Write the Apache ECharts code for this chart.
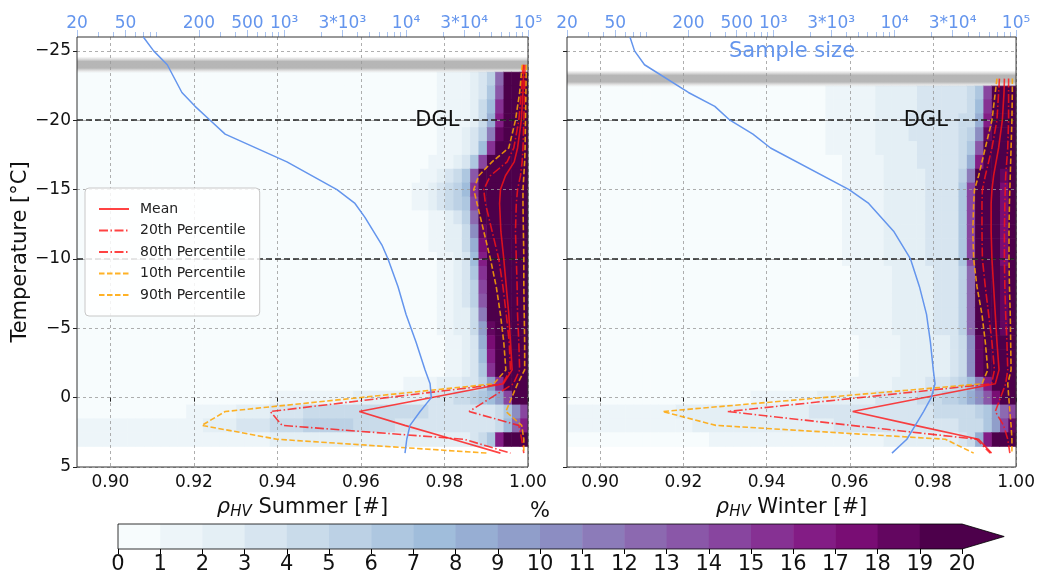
<!DOCTYPE html>
<html><head><meta charset="utf-8">
<script src="https://cdn.jsdelivr.net/npm/echarts@6/dist/echarts.min.js"></script>
<style>html,body{margin:0;padding:0;background:#fff}#chart{width:1038px;height:575px}</style>
</head><body><div id="chart"></div>
<script>
// ================= DATA =================
const rhoMin = 0.892, rhoMax = 1.0;
const tempMin = -26, tempMax = 5;
const binWidth = 0.002;            // histogram bin width in rho_HV
const rhoTicks = [0.90, 0.92, 0.94, 0.96, 0.98, 1.00];
const tempTicks = [-25, -20, -15, -10, -5, 0, 5];
const dglLevels = [-20, -10];
const sampleMajorTicks = [20, 50, 200, 500, 1000, 3000, 10000, 30000, 100000];
const sampleMajorLabels = ['20', '50', '200', '500', '10³', '3*10³', '10⁴', '3*10⁴', '10⁵'];
const sampleMinorTicks = [30, 40, 60, 70, 80, 90, 300, 400, 600, 700, 800, 900, 2000, 4000, 5000, 6000, 7000, 8000, 9000, 20000, 40000, 50000, 60000, 70000, 80000, 90000];
const colorLevels = [0,1,2,3,4,5,6,7,8,9,10,11,12,13,14,15,16,17,18,19];
const colorTickLabels = [0,1,2,3,4,5,6,7,8,9,10,11,12,13,14,15,16,17,18,19,20];

// ---- Summer percentile / mean profiles ----
const summerLevels = [-24, -22, -20, -18, -17, -16, -15, -14, -12, -10, -8, -6, -4, -2, -1, 1, 2, 3, 4];
const summerMean = [0.9990, 0.9988, 0.9984, 0.9975, 0.9967, 0.9946, 0.9934, 0.9932, 0.9935, 0.9942, 0.9948, 0.9954, 0.9958, 0.9962, 0.9941, 0.9596, 0.9705, 0.9820, 0.9934];
const summerP20 = [0.9988, 0.9984, 0.9978, 0.9966, 0.9950, 0.9910, 0.9894, 0.9898, 0.9914, 0.9930, 0.9940, 0.9948, 0.9955, 0.9958, 0.9939, 0.9383, 0.9411, 0.9847, 0.9958];
const summerP80 = [0.9993, 0.9992, 0.9990, 0.9988, 0.9986, 0.9982, 0.9975, 0.9972, 0.9970, 0.9972, 0.9974, 0.9975, 0.9978, 0.9980, 0.9965, 0.9859, 0.9978, 0.9985, 0.9990];
const summerP10 = [0.9986, 0.9980, 0.9970, 0.9954, 0.9914, 0.9882, 0.9870, 0.9878, 0.9894, 0.9910, 0.9924, 0.9934, 0.9942, 0.9947, 0.9918, 0.9275, 0.9219, 0.9399, 0.9903];
const summerP90 = [0.9996, 0.9995, 0.9994, 0.9993, 0.9992, 0.9990, 0.9988, 0.9988, 0.9989, 0.9990, 0.9990, 0.9991, 0.9992, 0.9992, 0.9975, 0.9947, 0.9985, 0.9990, 0.9990];

// ---- Winter percentile / mean profiles ----
const winterLevels = [-23, -22, -20, -18, -16, -15, -14, -12, -10, -8, -6, -4, -2, -1, 1, 2, 3, 4];
const winterMean = [0.9972, 0.9971, 0.9967, 0.9958, 0.9946, 0.9942, 0.9940, 0.9940, 0.9942, 0.9946, 0.9950, 0.9954, 0.9959, 0.9950, 0.9607, 0.9757, 0.9910, 0.9941];
const winterP20 = [0.9960, 0.9958, 0.9954, 0.9942, 0.9926, 0.9919, 0.9918, 0.9918, 0.9919, 0.9926, 0.9934, 0.9942, 0.9948, 0.9941, 0.9306, 0.9604, 0.9905, 0.9938];
const winterP80 = [0.9982, 0.9982, 0.9982, 0.9980, 0.9975, 0.9974, 0.9973, 0.9972, 0.9972, 0.9973, 0.9975, 0.9978, 0.9980, 0.9975, 0.9950, 0.9970, 0.9980, 0.9985];
const winterP10 = [0.9954, 0.9950, 0.9942, 0.9926, 0.9910, 0.9900, 0.9898, 0.9896, 0.9898, 0.9906, 0.9918, 0.9926, 0.9932, 0.9918, 0.9150, 0.9278, 0.9830, 0.9898];
const winterP90 = [0.9991, 0.9991, 0.9990, 0.9988, 0.9986, 0.9985, 0.9984, 0.9983, 0.9983, 0.9984, 0.9986, 0.9987, 0.9988, 0.9980, 0.9985, 0.9988, 0.9990, 0.9990];

// ---- Sample size profiles (top log axis) ----
const summerSampleTemps = [-26, -25, -24, -22, -21, -20, -19, -17, -15, -14, -13, -11, -10, -8, -6, -4, -2, -1, 0, 1, 2, 3, 4];
const summerSampleN = [70, 85, 110, 145, 186, 247, 328, 1054, 2711, 3810, 4600, 6340, 7110, 8590, 10000, 12080, 14320, 15740, 16100, 13030, 10770, 10130, 9800];
const winterSampleTemps = [-26, -25, -24, -22, -21, -20, -19, -18, -15, -14, -12, -10, -8, -6, -4, -2, -1, 0, 1, 2, 3, 4];
const winterSampleN = [66, 72, 87, 200, 330, 440, 680, 950, 4210, 6110, 9800, 13500, 16000, 18300, 19700, 20800, 21500, 20000, 17300, 14780, 12600, 9500];

// ---- Gray (no-data) band rows ----
const summerBandTemp = [-24];
const winterBandTemp = [-23];

// ---- 2D histograms [%]: one row per temperature, bins listed from rho=1.000 leftwards (width 0.002) ----
const summerHistTemps = [-23,-22,-21,-20,-19,-18,-17,-16,-15,-14,-13,-12,-11,-10,-9,-8,-7,-6,-5,-4,-3,-2,-1,0,1,2,3];
const summerHist = [
  [24,24,22,12,5,3,2,1.5,1.2,1,1],
  [24,24,22,13,6,3,2,1.5,1.2,1,1],
  [24,24,22,15,7,4,2,1.5,1.2,1,1],
  [24,24,22,16,8,4,2.5,1.5,1.2,1,1],
  [24,24,22,18,11,5,3,2,1.5,1,1],
  [24,24,22,20,15,7,3,2,1.5,1.2,1],
  [22,24,22,21,19,14,6,3,2,1.5,1.2,1],
  [20,22,22,21,21,19,13,6,4,3,2,1.5,1],
  [20,22,22,21,21,20,15,7,5,4,3,2,1.5,1],
  [20,22,22,21,21,20,14,6,5,4,3,2,1.5,1],
  [20,22,22,21,21,19,12,5,3,2,1.5,1],
  [20,22,22,21,21,18,10,4,2.5,2,1.5,1],
  [20,22,22,21,21,17,8,4,2.5,2,1.5,1],
  [20,22,22,21,21,16,7,3.5,2,1.5,1],
  [20,22,22,21,20,15,6,3,2,1.5,1],
  [20,22,22,21,20,14,5,3,2,1.5,1],
  [20,22,22,21,20,13,5,3,2,1.5,1],
  [20,22,22,21,19,11,4,2.5,2,1.5,1],
  [20,22,22,21,18,9,4,2.5,2,1.5,1],
  [20,22,22,21,17,8,3.5,2,1.5,1],
  [20,22,22,21,16,7,3,2,1.5,1],
  [20,22,22,20,15,6,3,2,1.5,1],
  [22,22,20,15,9,5,3.5,3,2.5,2,2,1.5,1.5,1.2,1],
  [22,20,14,9,7,6,5,4.5,4,3.5,3,3,2.8,2.6,2.5,2.4,2.3,2.2,2.1,2,2,1.9,1.8,1.7,1.6,1.5,1.4,1.3,1.2,1.1,1],
  [14,10,6,4,3,3,3,3,3,3.5,3.5,3.5,4,4,4,4,4.5,4.5,4.5,4.5,4.5,4.5,4.5,4.5,4,4,4,3.5,3.5,3,3,2.5,2.5,2,2,1.8,1.6,1.4,1.2,1.1,1],
  [16,12,7,4,3,3,3,3,3,3,3,3,3.5,3.5,3.5,3.5,4,4,4,4.5,4.5,5,5,5,5,5,5,4.5,4.5,4,4,3.5,3.5,3,3,2.5,2.5,2,2,1.8,1.6,1.5,1.4,1.4,1.5,1.6,1.6,1.5,1.4,1.3,1.2,1.1,1,1],
  [24,22,20,16,6,4,3,2.5,2.5,2,2,2,2,2,2,2,2,2,2,2,2,2,2,2,2,2,2,2,2,2,2,1.5,1.5,1.5,1.5,1.5,1.5,1.5,1.5,1.5,1.2,1.2,1.2,1.2,1.2,1.2,1.2,1.2,1.2,1.1,1.1,1.1,1,1]
];
const winterHistTemps = [-22,-21,-20,-19,-18,-17,-16,-15,-14,-13,-12,-11,-10,-9,-8,-7,-6,-5,-4,-3,-2,-1,0,1,2,3];
const winterHist = [
  [22,21,21,14,6,4,3.5,3.5,3,3,3,3,2.5,2.5,2.5,2,2,1.5,1.5,1.2,1.2,1,1],
  [22,21,21,15,7,4,3.5,3.5,3.5,3,3,3,2.5,2.5,2.5,2,2,1.5,1.5,1.2,1.2,1,1],
  [22,21,21,16,8,4.5,4,3.5,3.5,3,3,3,3,2.5,2.5,2,2,1.5,1.5,1.2,1.2,1,1],
  [22,21,21,18,10,5,4,3.5,3.5,3,3,3,3,2.5,2.5,2,2,1.5,1.5,1.2,1.2,1,1],
  [22,20,21,20,13,6,4,3.5,3.5,3,3,3,2.5,2.5,2.5,2,2,1.5,1.5,1.2,1.2,1,1],
  [22,19,21,21,16,8,4.5,3.5,3.5,3,3,3,2.5,2.5,2,2,1.5,1.5,1.2,1.2,1],
  [22,18,21,21,19,11,5,3.5,3,3,3,2.5,2.5,2.5,2,2,1.5,1.5,1.2,1.2,1],
  [22,17,21,21,20,14,6,3.5,3,3,3,2.5,2.5,2.5,2,2,1.5,1.5,1.2,1.2,1],
  [22,17,21,21,20,14,6,3.5,3,3,3,2.5,2.5,2.5,2,2,1.5,1.5,1.2,1.2,1],
  [22,17,21,21,20,14,6,3.5,3,3,3,2.5,2.5,2.5,2,2,1.5,1.5,1.2,1.2,1],
  [22,17,21,21,20,14,6,3.5,3,3,3,2.5,2.5,2.5,2,2,1.5,1.5,1.2,1.2,1],
  [22,17,21,21,20,14,6,3.5,3,3,3,2.5,2.5,2.5,2,2,1.5,1.5,1.2,1.2,1],
  [22,17,21,21,20,14,6,3.5,3,3,3,2.5,2.5,2.5,2,2,1.5,1.5,1.2,1.2,1],
  [22,18,21,21,19,12,5,3,3,3,2.5,2.5,2.5,2,2,1.5,1.5,1.2,1.2,1],
  [22,18,21,21,19,12,5,3,3,3,2.5,2.5,2.5,2,2,1.5,1.5,1.2,1.2,1],
  [22,18,21,21,19,12,5,3,3,3,2.5,2.5,2.5,2,2,1.5,1.5,1.2,1.2,1],
  [22,18,21,21,19,12,5,3,3,3,2.5,2.5,2.5,2,2,1.5,1.5,1.2,1.2,1],
  [22,18,21,21,19,12,5,3,3,3,2.5,2.5,2.5,2,2,1.5,1.5,1.2,1.2,1],
  [22,19,21,21,18,10,4,3,2.5,2.5,2.5,2,2,2,1.5,1.5,1.2,1.2,1],
  [22,19,21,21,18,10,4,3,2.5,2.5,2.5,2,2,2,1.5,1.5,1.2,1.2,1],
  [22,19,21,21,18,10,4,3,2.5,2.5,2.5,2,2,2,1.5,1.5,1.2,1.2,1],
  [22,22,20,16,11,7,5,4,3.5,3,3,2.5,2.5,2,2,1.5,1.5,1.2,1.2,1],
  [22,20,17,13,10,8,6.5,5.5,5,4.5,4,4,3.5,3.5,3,3,3,2.5,2.5,2.5,2,2,2,2,1.8,1.6,1.5,1.4,1.3,1.2,1.1,1],
  [14,12,9,6,5,4.5,4,4,4,4,3.5,3.5,3.5,3.5,3.5,3.5,3.5,3.5,3,3,3,3,3,3,3,2.5,2.5,2.5,2.5,2.5,2.5,2.5,2,2,2,2,2,2,2,2,2,1.8,1.8,1.8,1.8,1.8,1.6,1.6,1.6,1.5,1.5,1.4,1.4,1.3],
  [18,14,9,6,4.5,4,4,3.5,3.5,3.5,3.5,3,3,3,3,3,3,3,3,3,3,3,2.5,2.5,2.5,2.5,2.5,2.5,2.5,2.5,2,2,2,2,2,2,2,2,2,1.8,1.8,1.8,1.6,1.6,1.6,1.5,1.5,1.4,1.4,1.3,1.3,1.2,1.2,1.1],
  [24,22,20,16,8,4,3,2.5,2.5,2,2,2,2,2,2,2,1.8,1.8,1.8,1.6,1.6,1.6,1.5,1.5,1.5,1.4,1.4,1.4,1.3,1.3,1.3,1.2,1.2,1.2,1.1,1.1,1]
];

// ================= STYLE / HELPERS =================
const FONT = 'DejaVu Sans';
const SAMPLE_BLUE = '#6495ED';
const RED = 'rgba(255,20,20,0.8)';
const ORANGE = 'rgba(255,165,0,0.85)';
const dglLabelRho = 0.9783;

function sampleBuPu(t) {
  const stops = [[247,252,253],[224,236,244],[191,211,230],[158,188,218],[140,150,198],[140,107,177],[136,65,157],[129,15,124],[77,0,75]];
  const p = t * (stops.length - 1);
  const i = Math.min(stops.length - 2, Math.floor(p));
  const f = p - i;
  const c = stops[i].map((a, j) => Math.round(a + (stops[i + 1][j] - a) * f));
  return 'rgb(' + c.join(',') + ')';
}
const levelColors = colorLevels.map(i => sampleBuPu(i / (colorLevels.length - 1)));
function colorFor(v) {
  const i = Math.max(0, Math.min(colorLevels.length - 1, Math.floor(v)));
  return levelColors[i];
}

function histData(temps, rows) {
  const nBins = Math.round((rhoMax - rhoMin) / binWidth);
  const out = [];
  temps.forEach((t, r) => {
    for (let k = 0; k < nBins; k++) {
      const v = rows[r][k] || 0;
      out.push([rhoMax - binWidth * (k + 0.5), t, v]);
    }
  });
  return out;
}
function zipXY(xs, ys) { return xs.map((x, i) => [x, ys[i]]); }

function renderCell(params, api) {
  const x = api.value(0), t = api.value(1), v = api.value(2);
  const a = api.coord([x - binWidth / 2, t - 0.5]);
  const b = api.coord([x + binWidth / 2, t + 0.5]);
  return {
    type: 'rect',
    shape: { x: Math.min(a[0], b[0]), y: Math.min(a[1], b[1]), width: Math.abs(b[0] - a[0]) + 0.6, height: Math.abs(b[1] - a[1]) + 0.6 },
    style: { fill: colorFor(v) }
  };
}
function renderBand(params, api) {
  const t = api.value(0);
  const a = api.coord([rhoMin, t - 0.6]);
  const b = api.coord([rhoMax, t + 0.6]);
  return {
    type: 'rect',
    shape: { x: a[0], y: Math.min(a[1], b[1]), width: b[0] - a[0], height: Math.abs(b[1] - a[1]) },
    style: { fill: new echarts.graphic.LinearGradient(0, 0, 0, 1, [
      { offset: 0, color: 'rgba(200,200,200,0)' },
      { offset: 0.3, color: 'rgba(178,178,178,0.95)' },
      { offset: 0.7, color: 'rgba(178,178,178,0.95)' },
      { offset: 1, color: 'rgba(200,200,200,0)' }]) }
  };
}
function renderColorCell(params, api) {
  const i = api.value(0);
  const a = api.coord([i, 0]);
  const b = api.coord([i + 1, 1]);
  return { type: 'rect', shape: { x: a[0], y: b[1], width: b[0] - a[0] + 0.5, height: a[1] - b[1] }, style: { fill: levelColors[i] } };
}
function renderColorExtend(params, api) {
  const n = colorLevels.length;
  const p0 = api.coord([n, 0]), p1 = api.coord([n + 1, 0.5]), p2 = api.coord([n, 1]);
  const q0 = api.coord([0, 0]), q1 = api.coord([0, 1]);
  return { type: 'group', children: [
    { type: 'polygon', shape: { points: [p0, p1, p2] }, style: { fill: levelColors[n - 1] } },
    { type: 'polygon', shape: { points: [q0, p0, p1, p2, q1] }, style: { fill: 'none', stroke: '#000', lineWidth: 0.8 } }
  ]};
}

const gridLineStyle = { color: '#9a9a9a', type: [3, 3], width: 0.8 };
const tempLabel = v => (v < 0 ? '\u2212' + Math.abs(v) : String(v));

function bottomAxis(gridIndex, nameWord) {
  return {
    type: 'value', gridIndex, position: 'bottom', min: rhoMin, max: rhoMax, splitNumber: 5, z: 3,
    axisLine: { show: false },
    axisTick: { show: true, customValues: rhoTicks, length: 4, lineStyle: { color: '#222' } },
    axisLabel: { customValues: rhoTicks, formatter: v => v.toFixed(2), fontSize: 17, fontFamily: FONT, color: '#111', margin: 7 },
    splitLine: { show: true, lineStyle: gridLineStyle },
    name: '{r|ρ}{s|HV} ' + nameWord + ' [#]', nameLocation: 'middle', nameGap: 28,
    nameTextStyle: { fontSize: 21, fontFamily: FONT, color: '#111',
      rich: { r: { fontSize: 21, fontStyle: 'italic', fontFamily: FONT, color: '#111' },
              s: { fontSize: 15, fontStyle: 'italic', fontFamily: FONT, color: '#111', padding: [10, 0, 0, 0] } } }
  };
}
function topMajorAxis(gridIndex) {
  return {
    type: 'log', logBase: 10, gridIndex, position: 'top', min: 20, max: 100000, z: 3,
    axisLine: { show: false },
    axisTick: { show: true, customValues: sampleMajorTicks, length: 7, lineStyle: { color: '#a9c3f0' } },
    axisLabel: { show: true, customValues: sampleMajorTicks, fontSize: 17, fontFamily: FONT, color: SAMPLE_BLUE, margin: 5,
      formatter: v => { const i = sampleMajorTicks.findIndex(t => Math.abs(t - v) / t < 1e-6); return i >= 0 ? sampleMajorLabels[i] : ''; } },
    splitLine: { show: false }
  };
}
function topMinorAxis(gridIndex) {
  return {
    type: 'log', logBase: 10, gridIndex, position: 'top', min: 20, max: 100000, offset: 0, z: 3,
    axisLine: { show: false },
    axisTick: { show: true, customValues: sampleMinorTicks, length: 5, lineStyle: { color: '#a9c3f0' } },
    axisLabel: { show: false },
    splitLine: { show: false }
  };
}
function tempAxis(gridIndex, withLabels) {
  return {
    type: 'value', gridIndex, min: tempMin, max: tempMax, inverse: true, splitNumber: 6, z: 3,
    axisLine: { show: false },
    axisTick: { show: true, customValues: tempTicks, length: 4, lineStyle: { color: '#222' } },
    axisLabel: { show: withLabels, customValues: tempTicks, formatter: tempLabel, fontSize: 17, fontFamily: FONT, color: '#111', margin: 6 },
    splitLine: { show: true, lineStyle: gridLineStyle },
    name: withLabels ? 'Temperature [°C]' : '', nameLocation: 'middle', nameGap: 46, nameRotate: 90,
    nameTextStyle: { fontSize: 21, fontFamily: FONT, color: '#111' }
  };
}
function profileSeries(name, xs, levels, xi, yi, color, type, extra) {
  return Object.assign({
    type: 'line', name, xAxisIndex: xi, yAxisIndex: yi, data: zipXY(xs, levels),
    symbol: 'none', showSymbol: false, z: 6, silent: true,
    lineStyle: { color, width: 1.6, type },
    itemStyle: { color }
  }, extra || {});
}
const dashDot = [9, 2.5, 1.5, 2.5];
const dashed = [5.5, 2.5];

function dglExtras() {
  return {
    markLine: { silent: true, symbol: ['none', 'none'], animation: false,
      data: dglLevels.map(v => ({ yAxis: v })),
      lineStyle: { color: '#222', type: [6, 3], width: 1.5 }, label: { show: false } },
    markPoint: { silent: true, animation: false, symbol: 'circle', symbolSize: 0,
      data: [{ coord: [dglLabelRho, dglLevels[0]] }],
      label: { show: true, formatter: 'DGL', position: 'inside', fontSize: 21, fontFamily: FONT, color: '#111' } }
  };
}

function panelSeries(g, xb, xt, yi, histTemps, hist, bandTemp, L, sampleTemps, sampleN) {
  return [
    { type: 'custom', name: 'hist' + g, xAxisIndex: xb, yAxisIndex: yi, z: 1, silent: true, clip: true,
      renderItem: renderCell, data: histData(histTemps, hist) },
    { type: 'custom', name: 'band' + g, xAxisIndex: xb, yAxisIndex: yi, z: 2, silent: true, clip: true,
      renderItem: renderBand, data: bandTemp.map(t => [t]) },
    profileSeries('Mean', L.mean, L.levels, xb, yi, RED, 'solid', dglExtras()),
    profileSeries('20th Percentile', L.p20, L.levels, xb, yi, RED, dashDot),
    profileSeries('80th Percentile', L.p80, L.levels, xb, yi, RED, dashDot),
    profileSeries('10th Percentile', L.p10, L.levels, xb, yi, ORANGE, dashed),
    profileSeries('90th Percentile', L.p90, L.levels, xb, yi, ORANGE, dashed),
    { type: 'line', name: 'Sample size ' + g, xAxisIndex: xt, yAxisIndex: yi, z: 7, silent: true,
      data: zipXY(sampleN, sampleTemps), symbol: 'none', showSymbol: false,
      lineStyle: { color: SAMPLE_BLUE, width: 1.5 } }
  ];
}

const chart = echarts.init(document.getElementById('chart'), null, { renderer: 'canvas' });
const option = {
  animation: false,
  backgroundColor: '#fff',
  textStyle: { fontFamily: FONT },
  grid: [
    { left: 77, top: 37, width: 451, height: 430, show: true, z: 4, backgroundColor: 'transparent', borderColor: '#333', borderWidth: 1 },
    { left: 567, top: 37, width: 451, height: 430, show: true, z: 4, backgroundColor: 'transparent', borderColor: '#333', borderWidth: 1 },
    { left: 118, top: 524, width: 844, height: 26 }
  ],
  xAxis: [
    bottomAxis(0, 'Summer'), topMajorAxis(0), topMinorAxis(0),
    bottomAxis(1, 'Winter'), topMajorAxis(1), topMinorAxis(1),
    { type: 'value', gridIndex: 2, min: 0, max: 20, interval: 1, position: 'bottom',
      axisLine: { show: false }, splitLine: { show: false },
      axisTick: { show: true, length: 5, lineStyle: { color: '#000' } },
      axisLabel: { fontSize: 21, fontFamily: FONT, color: '#111', margin: 5,
        formatter: v => String(colorTickLabels[Math.round(v)]) } }
  ],
  yAxis: [
    tempAxis(0, true), tempAxis(1, false),
    { type: 'value', gridIndex: 2, min: 0, max: 1, show: false }
  ],
  legend: {
    data: ['Mean', '20th Percentile', '80th Percentile', '10th Percentile', '90th Percentile'],
    orient: 'vertical', left: 85, top: 188, itemWidth: 30, itemHeight: 14, itemGap: 7.5,
    padding: [14, 14, 14, 13], backgroundColor: 'rgba(255,255,255,0.85)', borderColor: '#c8c8c8', borderWidth: 1, borderRadius: 4,
    itemStyle: { opacity: 0 },
    textStyle: { fontSize: 14, fontFamily: FONT, color: '#222', padding: [0, 0, 0, 6] },
    selectedMode: false, z: 10
  },
  graphic: [
    { type: 'text', x: 792, y: 52, style: { text: 'Sample size', fill: SAMPLE_BLUE, font: '21px "DejaVu Sans"', textAlign: 'center', textVerticalAlign: 'middle' }, z: 10 },
    { type: 'text', x: 540, y: 512, style: { text: '%', fill: '#111', font: '21px "DejaVu Sans"', textAlign: 'center', textVerticalAlign: 'middle' }, z: 10 }
  ],
  series: [
    ...panelSeries('S', 0, 1, 0, summerHistTemps, summerHist, summerBandTemp,
      { levels: summerLevels, mean: summerMean, p20: summerP20, p80: summerP80, p10: summerP10, p90: summerP90 },
      summerSampleTemps, summerSampleN),
    ...panelSeries('W', 3, 4, 1, winterHistTemps, winterHist, winterBandTemp,
      { levels: winterLevels, mean: winterMean, p20: winterP20, p80: winterP80, p10: winterP10, p90: winterP90 },
      winterSampleTemps, winterSampleN),
    { type: 'custom', name: 'colorbar', xAxisIndex: 6, yAxisIndex: 2, silent: true, renderItem: renderColorCell,
      data: colorLevels.map(i => [i]) },
    { type: 'custom', name: 'colorbarExtend', xAxisIndex: 6, yAxisIndex: 2, silent: true, clip: false, renderItem: renderColorExtend,
      data: [[colorLevels.length]] }
  ]
};
chart.setOption(option);
</script>
</body></html>
